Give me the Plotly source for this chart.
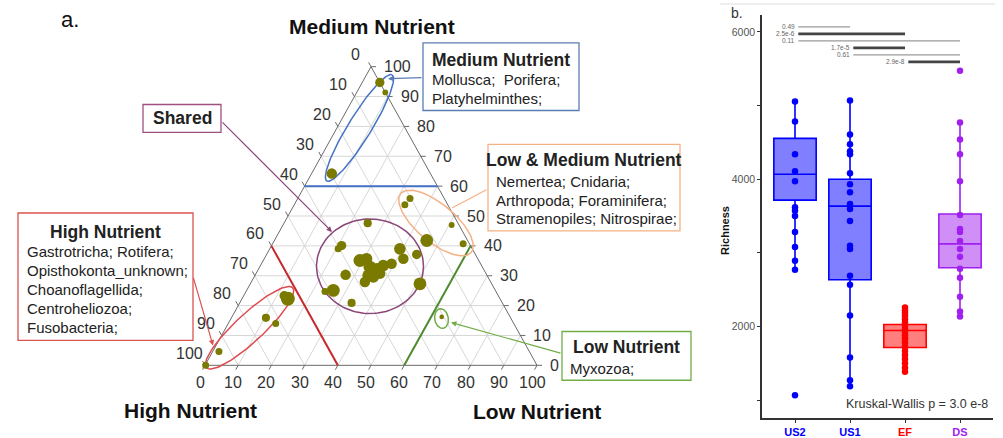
import numpy as np
import plotly.graph_objects as go

W, H = 1003, 438
FONT = "Liberation Sans, Arial, sans-serif"

# ---------------- panel a: ternary composition of taxa (%) ----------------
high = [0.0, 0.0, 29.7, 10.3, 12.9, 2.2, 12.3, 1.9,
        27.2, 38.8, 40.4, 35.8, 33.5, 33.9, 32.1, 29.6, 31.9, 35.8, 37.9, 34.5,
        26.8, 21.8, 22.4, 17.7, 42.5, 21.6, 48.8, 51.5, 45.4,
        63.9, 64.5, 73.7, 71.7, 93.5, 99.8, 20.6]
medium = [94.7, 91.4, 64.2, 55.9, 53.8, 47.0, 41.8, 40.7,
          47.6, 40.1, 39.0, 35.1, 35.7, 32.9, 32.3, 33.4, 30.7, 30.1, 27.9, 29.6,
          34.0, 39.0, 35.7, 37.1, 30.3, 27.3, 25.1, 24.7, 20.9,
          22.3, 23.3, 15.9, 14.0, 4.6, 0.0, 16.2]
low = [5.3, 8.6, 6.1, 33.8, 33.3, 50.8, 45.9, 57.4,
       25.2, 21.1, 20.6, 29.1, 30.8, 33.2, 35.6, 37.0, 37.4, 34.1, 34.2, 35.9,
       39.2, 39.2, 41.9, 45.2, 27.2, 51.1, 26.1, 23.8, 33.7,
       13.8, 12.2, 10.4, 14.3, 1.9, 0.2, 63.2]
abundance = [6.4, 2.5, 8.1, 3.6, 3.6, 2.5, 12.1, 3.6,
             4.9, 6.4, 3.6, 12.1, 10.0, 12.1, 10.0, 10.0, 8.1, 10.0, 8.1, 10.0,
             8.1, 10.0, 8.1, 6.4, 8.1, 12.1, 12.1, 3.6, 4.9,
             14.4, 6.4, 4.9, 3.6, 3.6, 3.6, 1.6]
ticks_pct = list(range(0, 101, 10))
threshold = 60

# ---------------- panel b: richness per site ----------------
groups = ["US2", "US1", "EF", "DS"]
group_colors = ["#0000FF", "#0000FF", "#FF0000", "#A020F0"]
group_fills = ["rgba(0,0,255,0.5)", "rgba(0,0,255,0.5)", "rgba(255,0,0,0.5)", "rgba(160,32,240,0.5)"]
rich_us2 = [5054, 4784, 4338, 4108, 3973, 3620, 3570, 3500, 3284, 3081, 2892, 2770, 1068]
rich_us1 = [5068, 4608, 4473, 4378, 4338, 4081, 3932, 3824, 3662, 3595, 3432, 3095, 3054,
            2689, 2568, 2149, 1581, 1270, 1190]
rich_ef = [2257, 2221, 2185, 2144, 2099, 2054, 2009, 1964, 1928, 1883, 1838, 1784, 1725,
           1667, 1613, 1559, 1500, 1441, 1387]
rich_ds = [5473, 4770, 4540, 4338, 3973, 3514, 3324, 3284, 3162, 3054, 2946, 2784, 2662,
           2405, 2203, 2135]
box_q1 = [3716, 2635, 1716, 2797]
box_median = [4068, 3635, 1946, 3122]
box_q3 = [4554, 4000, 2027, 3527]
box_lower = [2770, 1190, 1387, 2135]
box_upper = [5054, 5068, 2257, 4770]
pair_a = [0, 0, 0, 1, 1, 2]
pair_b = [1, 2, 3, 2, 3, 3]
pair_p = ["0.49", "2.5e-6", "0.11", "1.7e-5", "0.61", "2.9e-8"]
pair_pval = [0.49, 2.5e-6, 0.11, 1.7e-5, 0.61, 2.9e-8]
kw_label = "Kruskal-Wallis p = 3.0 e-8"

# ---------------- geometry of the ternary panel (pixels) ----------------
X0, XS = 205.0, 3.32     # left vertex x, pixels per percent along base
Y0, YS = 367.0, 3.0      # base y, pixels per percent of height


def tern(h, m, l):
    return l + m / 2.0, m


def pix2ax(px, py):
    return (px - X0) / XS, (Y0 - py) / YS


def P(px, py):
    return px / W, 1 - py / H


fig = go.Figure()

# grid
gx, gy = [], []
for v in range(10, 100, 10):
    for seg in [(tern(100 - v, v, 0), tern(0, v, 100 - v)),
                (tern(v, 100 - v, 0), tern(v, 0, 100 - v)),
                (tern(100 - v, 0, v), tern(0, 100 - v, v))]:
        gx += [seg[0][0], seg[1][0], None]
        gy += [seg[0][1], seg[1][1], None]
fig.add_trace(go.Scatter(x=gx, y=gy, mode="lines", line=dict(color="#d2d2d2", width=0.9),
                         hoverinfo="skip", showlegend=False))

# outer triangle and ticks
corners = [tern(100, 0, 0), tern(0, 0, 100), tern(0, 100, 0), tern(100, 0, 0)]
fig.add_trace(go.Scatter(x=[c[0] for c in corners], y=[c[1] for c in corners], mode="lines",
                         line=dict(color="#6a6a6a", width=1), hoverinfo="skip", showlegend=False))
tx, ty = [], []
ul = (-0.484 * 5 / XS, 0.875 * 5 / YS)
dl = (-0.484 * 5 / XS, -0.875 * 5 / YS)
for v in ticks_pct:
    a = tern(v, 100 - v, 0)
    tx += [a[0], a[0] + ul[0], None]; ty += [a[1], a[1] + ul[1], None]
    b = tern(100 - v, 0, v)
    tx += [b[0], b[0] + dl[0], None]; ty += [b[1], b[1] + dl[1], None]
    c = tern(0, v, 100 - v)
    tx += [c[0], c[0] + 5 / XS, None]; ty += [c[1], c[1], None]
fig.add_trace(go.Scatter(x=tx, y=ty, mode="lines", line=dict(color="#6a6a6a", width=1),
                         hoverinfo="skip", showlegend=False))

# 60 % boundaries
for (p1, p2, col) in [(tern(100 - threshold, threshold, 0), tern(0, threshold, 100 - threshold), "#4472C4"),
                      (tern(threshold, 100 - threshold, 0), tern(threshold, 0, 100 - threshold), "#C8282B"),
                      (tern(100 - threshold, 0, threshold), tern(0, 100 - threshold, threshold), "#4E8A2E")]:
    fig.add_trace(go.Scatter(x=[p1[0], p2[0]], y=[p1[1], p2[1]], mode="lines",
                             line=dict(color=col, width=2), hoverinfo="skip", showlegend=False))


# group ellipses
def ellipse(cx, cy, a, b, ang):
    t = np.linspace(0, 2 * np.pi, 120)
    th = np.radians(ang)
    ex = cx + a * np.cos(t) * np.cos(th) - b * np.sin(t) * np.sin(th)
    ey = cy + a * np.cos(t) * np.sin(th) + b * np.sin(t) * np.cos(th)
    return pix2ax(ex, ey)


for (cx, cy, a, b, ang, col) in [(359.5, 128.5, 62.5, 11.5, -58.5, "#4472C4"),
                                 (436, 224, 46, 19, 40, "#F4B183"),
                                 (370, 267.5, 53.5, 47.5, 0, "#8A4579"),
                                 (249.5, 329.3, 59, 14, -43, "#DF4A50"),
                                 (441.5, 320, 10, 6.8, 80, "#70AD47")]:
    ex, ey = ellipse(cx, cy, a, b, ang)
    fig.add_trace(go.Scatter(x=ex, y=ey, mode="lines", line=dict(color=col, width=1.5),
                             hoverinfo="skip", showlegend=False))

# taxa
pts = [tern(h, m, l) for h, m, l in zip(high, medium, low)]
amax = max(abundance)
fig.add_trace(go.Scatter(x=[p[0] for p in pts], y=[p[1] for p in pts], mode="markers",
                         marker=dict(color="#7a7a00", opacity=1,
                                     size=[14 * np.sqrt(a / amax) for a in abundance],
                                     line=dict(width=0)),
                         showlegend=False))

# ---------------- panel b traces ----------------
for i, g in enumerate(groups):
    fig.add_trace(go.Box(x=[i], q1=[box_q1[i]], median=[box_median[i]], q3=[box_q3[i]],
                         lowerfence=[box_lower[i]], upperfence=[box_upper[i]],
                         width=0.77, whiskerwidth=0, fillcolor=group_fills[i],
                         line=dict(color=group_colors[i], width=1.6),
                         xaxis="x2", yaxis="y2", showlegend=False, hoverinfo="skip"))
for i, vals in enumerate([rich_us2, rich_us1, rich_ef, rich_ds]):
    fig.add_trace(go.Scatter(x=[i] * len(vals), y=vals, mode="markers",
                             marker=dict(color=group_colors[i], size=6.5, opacity=1),
                             xaxis="x2", yaxis="y2", showlegend=False))

annotations = []
top_level, step = 6068, 95
for k, (a, b, lab, pv) in enumerate(zip(pair_a, pair_b, pair_p, pair_pval)):
    lvl = top_level - k * step
    sig = pv < 0.05
    fig.add_trace(go.Scatter(x=[a + 0.06, b], y=[lvl, lvl], mode="lines",
                             line=dict(color="#444444" if sig else "#9a9a9a", width=2.6 if sig else 1.4),
                             xaxis="x2", yaxis="y2", hoverinfo="skip", showlegend=False))
    annotations.append(dict(x=a + 0.03, y=lvl, xref="x2", yref="y2", text=lab, showarrow=False,
                            xanchor="right", yanchor="middle",
                            font=dict(size=6.5, color="#666666", family=FONT)))
annotations.append(dict(x=3.55, y=950, xref="x2", yref="y2", text=kw_label, showarrow=False,
                        xanchor="right", yanchor="middle", font=dict(size=12.5, color="#333333", family=FONT)))

# ---------------- ternary labels ----------------
for v in ticks_pct:
    a = tern(v, 100 - v, 0)
    annotations.append(dict(x=a[0], y=a[1], xref="x", yref="y", text=str(v), showarrow=False,
                            xshift=-16, yshift=12, font=dict(size=16, color="#333333", family=FONT)))
    b = tern(100 - v, 0, v)
    annotations.append(dict(x=b[0], y=b[1], xref="x", yref="y", text=str(v), showarrow=False,
                            xshift=-5, yshift=-17, font=dict(size=16, color="#333333", family=FONT)))
    c = tern(0, v, 100 - v)
    annotations.append(dict(x=c[0], y=c[1], xref="x", yref="y", text=str(v), showarrow=False,
                            xanchor="left", xshift=11, font=dict(size=16, color="#333333", family=FONT)))


def text_at(px, py, s, size, bold=False, anchor="center", color="#222222"):
    x, y = P(px, py)
    annotations.append(dict(x=x, y=y, xref="paper", yref="paper", text=f"<b>{s}</b>" if bold else s,
                            showarrow=False, xanchor=anchor, yanchor="middle",
                            font=dict(size=size, color=color, family=FONT)))


text_at(372, 27, "Medium Nutrient", 21, True, color="#111111")
text_at(190, 412, "High Nutrient", 21, True, color="#111111")
text_at(537, 413, "Low Nutrient", 21, True, color="#111111")
text_at(70, 20, "a.", 22, color="#111111")
text_at(737, 13, "b.", 14, color="#333333")

shapes = []


def box(x0, y0, x1, y1, col):
    a0, b0 = P(x0, y1)
    a1, b1 = P(x1, y0)
    shapes.append(dict(type="rect", xref="paper", yref="paper", x0=a0, y0=b0, x1=a1, y1=b1,
                       line=dict(color=col, width=1.3), fillcolor="white"))


def arrow(tail, head, col, headstyle=2):
    hx, hy = P(*head)
    annotations.append(dict(x=hx, y=hy, xref="paper", yref="paper", ax=tail[0] - head[0], ay=tail[1] - head[1],
                            axref="pixel", ayref="pixel", text="", showarrow=True, arrowhead=headstyle,
                            arrowsize=0.9, arrowwidth=1.2, arrowcolor=col))


# category boxes with connectors
box(423, 43, 579, 111, "#5B7DB5")
text_at(501, 60, "Medium Nutrient", 17.5, True)
text_at(430, 80, "Mollusca;  Porifera;", 15, anchor="left")
text_at(430, 99, "Platyhelminthes;", 15, anchor="left")
arrow((423, 78), (388, 79), "#5B7DB5")

box(143, 105, 221, 133, "#A0507F")
text_at(182, 119, "Shared", 17.5, True)
arrow((221, 122), (332, 233), "#8A4579")

box(488, 145, 680, 232, "#F4B183")
text_at(584, 161, "Low &amp; Medium Nutrient", 17.5, True)
text_at(494, 182, "Nemertea; Cnidaria;", 15, anchor="left")
text_at(494, 201, "Arthropoda; Foraminifera;", 15, anchor="left")
text_at(494, 220, "Stramenopiles; Nitrospirae;", 15, anchor="left")
arrow((488, 190), (452, 209), "#F4B183", headstyle=0)

box(18, 214, 193, 342, "#D9534F")
text_at(105.5, 233, "High Nutrient", 17.5, True)
for k, s in enumerate(["Gastrotricha; Rotifera;", "Opisthokonta_unknown;", "Choanoflagellida;",
                       "Centroheliozoa;", "Fusobacteria;"]):
    text_at(25, 253 + 19 * k, s, 15, anchor="left")
arrow((193, 278), (213, 347), "#D9534F")

box(562, 333, 691, 382, "#70AD47")
text_at(626, 349, "Low Nutrient", 17.5, True)
text_at(568, 370, "Myxozoa;", 15, anchor="left")
arrow((562, 355), (451, 324), "#70AD47")

# top rule of panel b
shapes.append(dict(type="line", xref="paper", yref="paper", x0=720 / W, x1=995 / W, y0=1 - 4 / H, y1=1 - 4 / H,
                   line=dict(color="#dddddd", width=1)))

# y-axis title of panel b
annotations.append(dict(x=733 / W, y=1 - 232 / H, xref="paper", yref="paper", text="<b>Richness</b>",
                        textangle=-90, showarrow=False, font=dict(size=11, color="#111111", family=FONT)))

tick_html = [f'<span style="color:{c}"><b>{g}</b></span>' for g, c in zip(groups, group_colors)]

fig.update_layout(
    width=W, height=H, margin=dict(l=0, r=0, t=0, b=0),
    paper_bgcolor="white", plot_bgcolor="rgba(0,0,0,0)",
    font=dict(family=FONT),
    xaxis=dict(domain=[0, 700 / W], range=[-X0 / XS, (700 - X0) / XS], visible=False, fixedrange=True),
    yaxis=dict(domain=[0, 1], range=[(Y0 - H) / YS, Y0 / YS], visible=False, fixedrange=True),
    xaxis2=dict(domain=[762 / W, 993 / W], range=[-0.6, 3.6], anchor="y2", tickmode="array",
                tickvals=list(range(len(groups))), ticktext=tick_html, showline=True,
                linecolor="#333333", linewidth=1.5, ticks="outside", ticklen=3, tickcolor="#333333",
                showgrid=False, zeroline=False, tickfont=dict(size=11, family=FONT)),
    yaxis2=dict(domain=[1 - 420 / H, 1 - 15 / H], range=[757, 6230], anchor="x2", tickmode="array",
                tickvals=[1000, 2000, 3000, 4000, 5000, 6000],
                ticktext=["", "2000", "", "4000", "", "6000"], showline=True, linecolor="#333333",
                linewidth=1.5, ticks="outside", ticklen=3, tickcolor="#333333", showgrid=False,
                zeroline=False, tickfont=dict(size=10.5, color="#555555", family=FONT)),
    shapes=shapes, annotations=annotations,
)

fig.write_html("out.html")
